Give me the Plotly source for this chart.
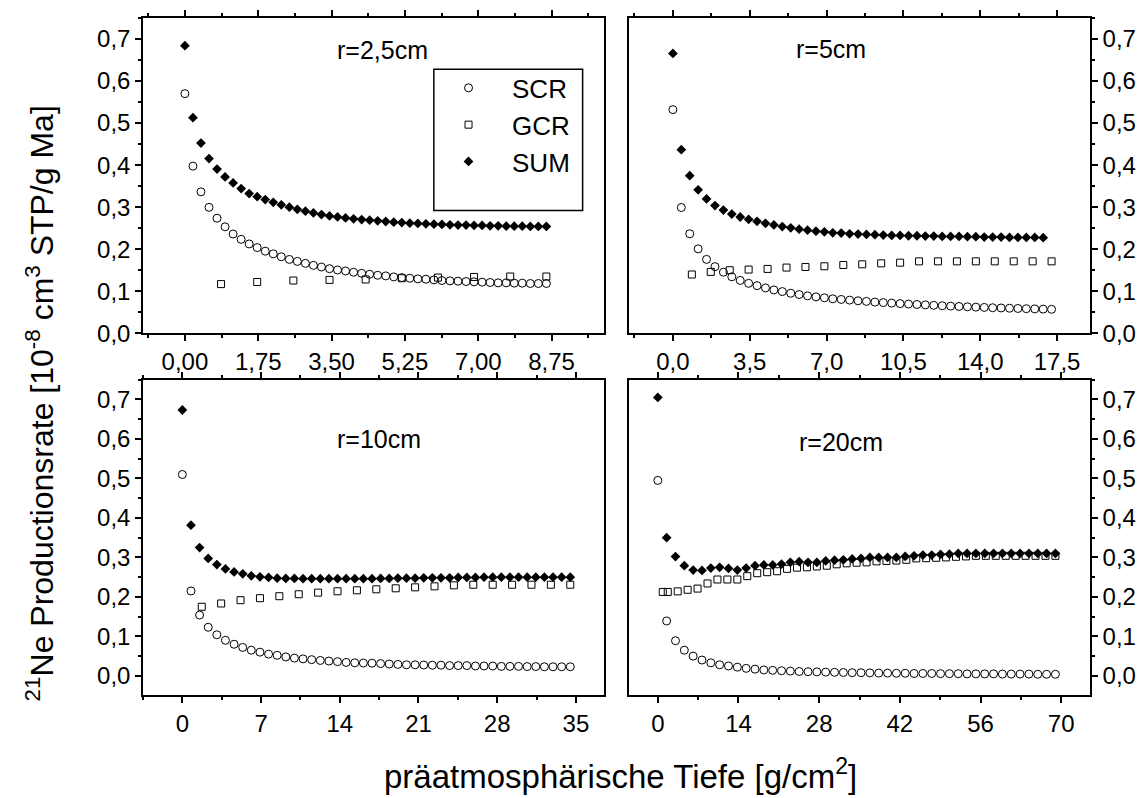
import plotly.graph_objects as go

# ---------------- data ----------------
# r = 2,5 cm
x_r25 = [0, 0.192, 0.383, 0.575, 0.767, 0.958, 1.150, 1.342, 1.533, 1.725, 1.917, 2.108, 2.300, 2.492,
         2.683, 2.875, 3.067, 3.258, 3.450, 3.642, 3.833, 4.025, 4.217, 4.408, 4.600, 4.792, 4.983, 5.175,
         5.367, 5.558, 5.750, 5.942, 6.133, 6.325, 6.517, 6.708, 6.900, 7.092, 7.283, 7.475, 7.667, 7.858,
         8.050, 8.242, 8.433, 8.625]
scr_r25 = [0.570, 0.3976, 0.3365, 0.2996, 0.2737, 0.2533, 0.2361, 0.2235, 0.2125, 0.2039,
           0.1953, 0.1890, 0.1820, 0.1757, 0.1710, 0.1663, 0.1616, 0.1576, 0.1537, 0.1506,
           0.1482, 0.1451, 0.1427, 0.1404, 0.1380, 0.1365, 0.1341, 0.1325, 0.1310, 0.1294,
           0.1286, 0.1270, 0.1255, 0.1247, 0.1239, 0.1231, 0.1224, 0.1216, 0.1208, 0.1200,
           0.1200, 0.1192, 0.1192, 0.1184, 0.1184, 0.1184]
sum_r25 = [0.684, 0.513, 0.4525, 0.4157, 0.3906, 0.3718, 0.3576, 0.3443, 0.3325, 0.3250,
           0.3180, 0.3115, 0.3055, 0.3000, 0.2950, 0.2905, 0.2863, 0.2824, 0.2792, 0.2769,
           0.2745, 0.2722, 0.2706, 0.2690, 0.2675, 0.2659, 0.2643, 0.2635, 0.2620, 0.2612,
           0.2604, 0.2596, 0.2588, 0.2580, 0.2573, 0.2573, 0.2565, 0.2565, 0.2557, 0.2557,
           0.2549, 0.2549, 0.2549, 0.2541, 0.2541, 0.2541]
xg_r25 = [0.8625, 1.725, 2.5875, 3.45, 4.3125, 5.175, 6.0375, 6.9, 7.7625, 8.625]
gcr_r25 = [0.117, 0.122, 0.1255, 0.127, 0.128, 0.131, 0.1325, 0.134, 0.135, 0.135]

# r = 5 cm
x_r5 = [0, 0.383, 0.767, 1.150, 1.533, 1.917, 2.300, 2.683, 3.067, 3.450, 3.833, 4.217, 4.600, 4.983,
        5.367, 5.750, 6.133, 6.517, 6.900, 7.283, 7.667, 8.050, 8.433, 8.817, 9.200, 9.583, 9.967,
        10.350, 10.733, 11.117, 11.500, 11.883, 12.267, 12.650, 13.033, 13.417, 13.800, 14.183,
        14.567, 14.950, 15.333, 15.717, 16.100, 16.483, 16.867, 17.250]
scr_r5 = [0.532, 0.2992, 0.2367, 0.2008, 0.1758, 0.1586, 0.1453, 0.1344, 0.1258, 0.1188,
          0.1133, 0.1078, 0.1031, 0.0992, 0.0953, 0.0922, 0.0891, 0.0867, 0.0844, 0.0820,
          0.0805, 0.0789, 0.0773, 0.0758, 0.0742, 0.0730, 0.0718, 0.0706, 0.0695, 0.0685,
          0.0675, 0.0665, 0.0655, 0.0646, 0.0638, 0.0630, 0.0622, 0.0615, 0.0608, 0.0602,
          0.0596, 0.0590, 0.0585, 0.0580, 0.0575, 0.0570]
xs_r5 = [0, 0.383, 0.767, 1.150, 1.533, 1.917, 2.300, 2.683, 3.067, 3.450, 3.833, 4.217, 4.600, 4.983,
         5.367, 5.750, 6.133, 6.517, 6.900, 7.283, 7.667, 8.050, 8.433, 8.817, 9.200, 9.583, 9.967,
         10.350, 10.733, 11.117, 11.500, 11.883, 12.267, 12.650, 13.033, 13.417, 13.800, 14.183,
         14.567, 14.950, 15.333, 15.717, 16.100, 16.483, 16.867]
sum_r5 = [0.6656, 0.4367, 0.3750, 0.3414, 0.3195, 0.3039, 0.2930, 0.2836, 0.2766, 0.2711,
          0.2664, 0.2617, 0.2578, 0.2539, 0.2508, 0.2477, 0.2453, 0.2430, 0.2414, 0.2391,
          0.2383, 0.2367, 0.2359, 0.2352, 0.2344, 0.2336, 0.2328, 0.2328, 0.2320, 0.2320,
          0.2313, 0.2313, 0.2305, 0.2305, 0.2305, 0.2297, 0.2297, 0.2289, 0.2289, 0.2289,
          0.2281, 0.2281, 0.2281, 0.2281, 0.2273]
xg_r5 = [0.8625, 1.725, 2.5875, 3.45, 4.3125, 5.175, 6.0375, 6.9, 7.7625, 8.625, 9.4875, 10.35,
         11.2125, 12.075, 12.9375, 13.8, 14.6625, 15.525, 16.3875, 17.25]
gcr_r5 = [0.1398, 0.1461, 0.1500, 0.1516, 0.1531, 0.1563, 0.1578, 0.1594, 0.1625, 0.1641,
          0.1664, 0.1680, 0.1711, 0.1711, 0.1711, 0.1711, 0.1711, 0.1711, 0.1711, 0.1711]

# r = 10 cm
x_r10 = [0, 0.767, 1.533, 2.300, 3.067, 3.833, 4.600, 5.367, 6.133, 6.900, 7.667, 8.433, 9.200, 9.967,
         10.733, 11.500, 12.267, 13.033, 13.800, 14.567, 15.333, 16.100, 16.867, 17.633, 18.400,
         19.167, 19.933, 20.700, 21.467, 22.233, 23.000, 23.767, 24.533, 25.300, 26.067, 26.833,
         27.600, 28.367, 29.133, 29.900, 30.667, 31.433, 32.200, 32.967, 33.733, 34.500]
scr_r10 = [0.510, 0.215, 0.154, 0.123, 0.104, 0.090, 0.080, 0.072, 0.065, 0.060,
           0.055, 0.052, 0.048, 0.045, 0.043, 0.041, 0.039, 0.0375, 0.036, 0.034,
           0.033, 0.0325, 0.032, 0.031, 0.030, 0.029, 0.028, 0.028, 0.0275, 0.027,
           0.027, 0.026, 0.026, 0.026, 0.025, 0.025, 0.025, 0.024, 0.024, 0.024,
           0.0235, 0.0235, 0.023, 0.023, 0.023, 0.023]
sum_r10 = [0.6733, 0.3817, 0.3250, 0.2975, 0.2817, 0.2708, 0.2633, 0.2583, 0.2533, 0.2508,
           0.2492, 0.2475, 0.2467, 0.2467, 0.2460, 0.2460, 0.2460, 0.2460, 0.2460, 0.2460,
           0.2460, 0.2460, 0.2460, 0.2467, 0.2467, 0.2475, 0.2475, 0.2475, 0.2483, 0.2483,
           0.2483, 0.2483, 0.2492, 0.2492, 0.2492, 0.2500, 0.2500, 0.2500, 0.2500, 0.2500,
           0.2500, 0.2500, 0.2500, 0.2500, 0.2500, 0.2500]
xg_r10 = [1.725, 3.45, 5.175, 6.9, 8.625, 10.35, 12.075, 13.8, 15.525, 17.25, 18.975, 20.7, 22.425,
          24.15, 25.875, 27.6, 29.325, 31.05, 32.775, 34.5]
gcr_r10 = [0.175, 0.1833, 0.1917, 0.1967, 0.2017, 0.2067, 0.2108, 0.2142, 0.2167, 0.2192,
           0.2217, 0.2242, 0.2267, 0.2292, 0.2308, 0.2308, 0.2308, 0.2308, 0.2308, 0.2308]

# r = 20 cm
x_r20 = [0, 1.533, 3.067, 4.600, 6.133, 7.667, 9.200, 10.733, 12.267, 13.800, 15.333, 16.867, 18.400,
         19.933, 21.467, 23.000, 24.533, 26.067, 27.600, 29.133, 30.667, 32.200, 33.733, 35.267,
         36.800, 38.333, 39.867, 41.400, 42.933, 44.467, 46.000, 47.533, 49.067, 50.600, 52.133,
         53.667, 55.200, 56.733, 58.267, 59.800, 61.333, 62.867, 64.400, 65.933, 67.467, 69.000]
scr_r20 = [0.495, 0.139, 0.089, 0.065, 0.050, 0.040, 0.033, 0.028, 0.025, 0.022,
           0.019, 0.017, 0.015, 0.014, 0.013, 0.012, 0.011, 0.0105, 0.010, 0.0095,
           0.009, 0.0085, 0.008, 0.008, 0.0075, 0.007, 0.007, 0.0065, 0.0065, 0.006,
           0.006, 0.006, 0.0055, 0.0055, 0.0055, 0.005, 0.005, 0.005, 0.005, 0.0045,
           0.0045, 0.0045, 0.0045, 0.004, 0.004, 0.004]
sum_r20 = [0.705, 0.350, 0.302, 0.279, 0.268, 0.267, 0.273, 0.275, 0.272, 0.268,
           0.273, 0.279, 0.281, 0.281, 0.283, 0.2875, 0.289, 0.2875, 0.2875, 0.291,
           0.293, 0.294, 0.296, 0.2975, 0.300, 0.300, 0.300, 0.300, 0.3025, 0.304,
           0.306, 0.306, 0.3075, 0.308, 0.310, 0.310, 0.310, 0.310, 0.310, 0.310,
           0.310, 0.310, 0.310, 0.310, 0.310, 0.310]
xg_r20 = [0.8625, 1.725, 3.45, 5.175, 6.9, 8.625, 10.35, 12.075, 13.8, 15.525, 17.25, 18.975, 20.7,
          22.425, 24.15, 25.875, 27.6, 29.325, 31.05, 32.775, 34.5, 36.225, 37.95, 39.675, 41.4,
          43.125, 44.85, 46.575, 48.3, 50.025, 51.75, 53.475, 55.2, 56.925, 58.65, 60.375, 62.1,
          63.825, 65.55, 67.275, 69.0]
gcr_r20 = [0.2125, 0.2125, 0.214, 0.218, 0.221, 0.234, 0.244, 0.244, 0.244, 0.2525,
           0.260, 0.2625, 0.265, 0.271, 0.274, 0.275, 0.277, 0.279, 0.2825, 0.285,
           0.2865, 0.2875, 0.290, 0.291, 0.292, 0.294, 0.2975, 0.298, 0.299, 0.300,
           0.3015, 0.3025, 0.304, 0.304, 0.304, 0.304, 0.304, 0.304, 0.304, 0.304, 0.304]

panel_titles = ["r=2,5cm", "r=5cm", "r=10cm", "r=20cm"]
series_names = ["SCR", "GCR", "SUM"]
y_title = "<sup>21</sup>Ne Productionsrate [10<sup>-8</sup> cm<sup>3</sup> STP/g Ma]"
x_title = "präatmosphärische Tiefe [g/cm<sup>2</sup>]"

# ---------------- figure ----------------
FONT = "Liberation Sans, Arial, Helvetica, sans-serif"

panels = [
    dict(xa="x", ya="y", xs=x_r25, scr=scr_r25, xsum=x_r25, sm=sum_r25, xg=xg_r25, gcr=gcr_r25),
    dict(xa="x2", ya="y2", xs=x_r5, scr=scr_r5, xsum=xs_r5, sm=sum_r5, xg=xg_r5, gcr=gcr_r5),
    dict(xa="x3", ya="y3", xs=x_r10, scr=scr_r10, xsum=x_r10, sm=sum_r10, xg=xg_r10, gcr=gcr_r10),
    dict(xa="x4", ya="y4", xs=x_r20, scr=scr_r20, xsum=x_r20, sm=sum_r20, xg=xg_r20, gcr=gcr_r20),
]

fig = go.Figure()
for i, p in enumerate(panels):
    first = i == 0
    fig.add_trace(go.Scatter(
        x=p["xs"], y=p["scr"], mode="markers", name=series_names[0], legendgroup="g1",
        showlegend=first, xaxis=p["xa"], yaxis=p["ya"],
        marker=dict(symbol="circle-open", size=8, color="black", line=dict(width=1, color="black"))))
    fig.add_trace(go.Scatter(
        x=p["xg"], y=p["gcr"], mode="markers", name=series_names[1], legendgroup="g2",
        showlegend=first, xaxis=p["xa"], yaxis=p["ya"],
        marker=dict(symbol="square-open", size=7, color="black", line=dict(width=1, color="black"))))
    fig.add_trace(go.Scatter(
        x=p["xsum"], y=p["sm"], mode="markers", name=series_names[2], legendgroup="g3",
        showlegend=first, xaxis=p["xa"], yaxis=p["ya"],
        marker=dict(symbol="diamond", size=7.5, color="black", line=dict(width=0))))

LW = 1.5
xdom_l = [0, 0.4868]
xdom_r = [0.5132, 1]
ydom_t = [0.5343, 1]
ydom_b = [0, 0.4657]


def xax(dom, anchor, rng, dtick, fmt):
    return dict(domain=dom, anchor=anchor, range=rng, dtick=dtick, tick0=0, tickformat=fmt,
                showline=True, linecolor="black", linewidth=LW, mirror="allticks",
                ticks="outside", ticklen=6, tickwidth=LW, tickcolor="black",
                showgrid=False, zeroline=False,
                tickfont=dict(family=FONT, size=24, color="black"),
                minor=dict(ticks="outside", ticklen=3, tickwidth=LW, tickcolor="black",
                           dtick=dtick / 2, tick0=0, showgrid=False))


def yax(dom, anchor, rng, side):
    return dict(domain=dom, anchor=anchor, range=rng, dtick=0.1, tick0=0, tickformat=".1f",
                side=side, showline=True, linecolor="black", linewidth=LW, mirror=True,
                ticks="outside", ticklen=6, tickwidth=LW, tickcolor="black",
                showgrid=False, zeroline=False,
                tickfont=dict(family=FONT, size=24, color="black"),
                minor=dict(ticks="outside", ticklen=3, tickwidth=LW, tickcolor="black",
                           dtick=0.05, tick0=0, showgrid=False))


def yover(over, anchor, rng, side):
    return dict(overlaying=over, anchor=anchor, range=rng, dtick=0.1, tick0=0, side=side,
                showline=False, showticklabels=False, ticks="inside", ticklen=6, tickwidth=LW,
                tickcolor="black", showgrid=False, zeroline=False,
                minor=dict(ticks="inside", ticklen=3, tickwidth=LW, tickcolor="black",
                           dtick=0.05, tick0=0, showgrid=False))


yr_top = [0, 0.75]
yr_bot = [-0.0485, 0.75]

fig.update_layout(
    width=1147, height=798,
    margin=dict(l=143, r=57, t=10, b=103, pad=0),
    paper_bgcolor="white", plot_bgcolor="white",
    separators=",.",
    font=dict(family=FONT, color="black"),
    xaxis=xax(xdom_l, "y", [-1, 10], 1.75, ".2f"),
    xaxis2=xax(xdom_r, "y2", [-2, 19], 3.5, ".1f"),
    xaxis3=xax(xdom_l, "y3", [-3.5, 37.5], 7, "d"),
    xaxis4=xax(xdom_r, "y4", [-5, 75], 14, "d"),
    yaxis=yax(ydom_t, "x", yr_top, "left"),
    yaxis2=yax(ydom_t, "x2", yr_top, "right"),
    yaxis3=yax(ydom_b, "x3", yr_bot, "left"),
    yaxis4=yax(ydom_b, "x4", yr_bot, "right"),
    yaxis5=yover("y", "x", yr_top, "right"),
    yaxis6=yover("y2", "x2", yr_top, "left"),
    yaxis7=yover("y3", "x3", yr_bot, "right"),
    yaxis8=yover("y4", "x4", yr_bot, "left"),
    showlegend=True,
    legend=dict(x=0.2978, y=0.9314, xanchor="left", yanchor="top",
                bgcolor="rgba(0,0,0,0)", borderwidth=0,
                font=dict(family=FONT, size=26, color="black"),
                itemwidth=77, tracegroupgap=0, traceorder="grouped"),
)

# legend frame
fig.add_shape(type="rect", xref="x", yref="y", x0=5.94, x1=9.49, y0=0.292, y1=0.628,
              line=dict(color="black", width=LW), fillcolor="rgba(0,0,0,0)")

title_pos = [("x", "y", 4.71, 0.675), ("x2", "y2", 7.2, 0.676),
             ("x3", "y3", 17.5, 0.60), ("x4", "y4", 31.8, 0.593)]
for t, (xr, yr, xx, yy) in zip(panel_titles, title_pos):
    fig.add_annotation(text=t, xref=xr, yref=yr, x=xx, y=yy, showarrow=False,
                       xanchor="center", yanchor="middle",
                       font=dict(family=FONT, size=25, color="black"))

fig.add_annotation(text=y_title, xref="paper", yref="paper", x=-0.1088, y=0.4307,
                   showarrow=False, textangle=-90, xanchor="center", yanchor="middle",
                   font=dict(family=FONT, size=32, color="black"))
fig.add_annotation(text=x_title, xref="paper", yref="paper", x=0.5037, y=-0.1168,
                   showarrow=False, xanchor="center", yanchor="middle",
                   font=dict(family=FONT, size=33, color="black"))

fig.write_html("out.html")
